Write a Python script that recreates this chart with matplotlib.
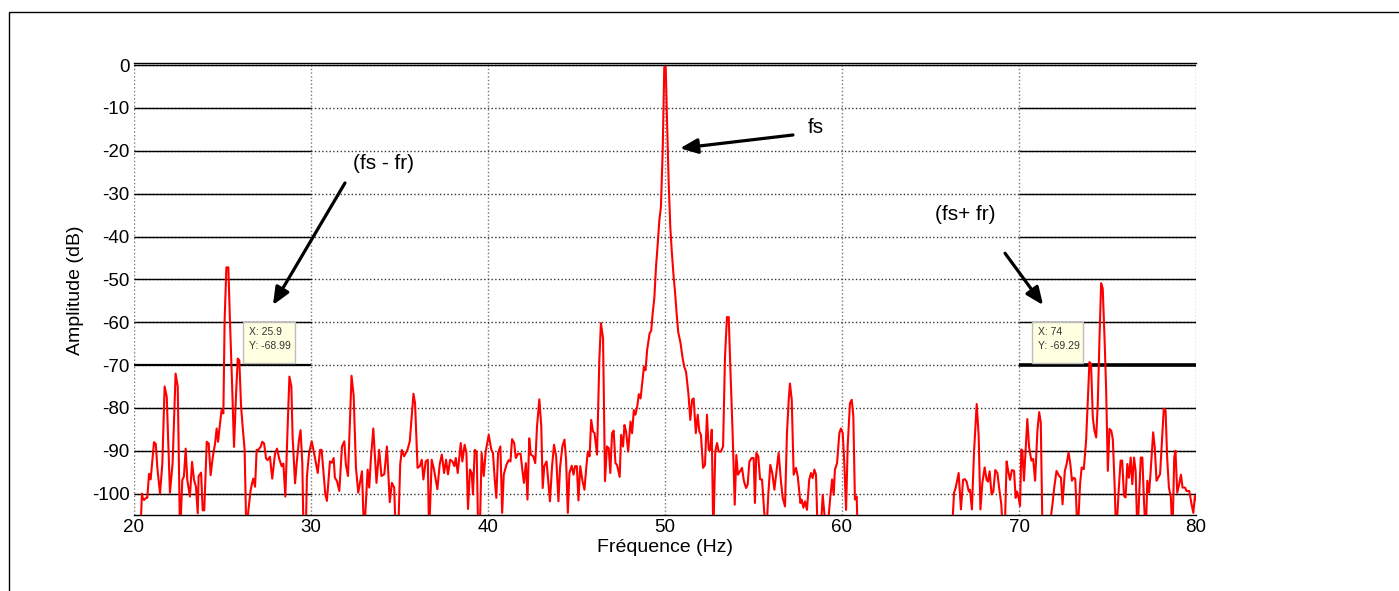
import matplotlib
matplotlib.use("Agg")
import matplotlib.pyplot as plt
from matplotlib.patches import Rectangle

plt.rcParams['font.family'] = ['Liberation Sans', 'DejaVu Sans']
plt.rcParams['axes.unicode_minus'] = False

# spectrum (Hz, dB); values below -105 fall outside the axes
freq = [20.0, 20.35, 20.45, 20.49, 20.57, 20.68, 20.75, 20.85, 20.94, 21.02, 21.13, 21.23, 21.32, 21.47,
        21.60, 21.73, 21.85, 22.03, 22.18, 22.35, 22.47, 22.60, 22.73, 22.82, 22.92, 23.01, 23.16, 23.28,
        23.39, 23.50, 23.60, 23.65, 23.79, 23.88, 23.97, 24.11, 24.22, 24.33, 24.44, 24.58, 24.67, 24.75,
        24.86, 24.95, 25.05, 25.12, 25.22, 25.33, 25.42, 25.54, 25.65, 25.76, 25.86, 25.95, 26.05, 26.14,
        26.25, 26.35, 26.46, 26.59, 26.67, 26.74, 26.84, 26.93, 27.03, 27.16, 27.25, 27.35, 27.46, 27.55,
        27.68, 27.81, 27.97, 28.08, 28.20, 28.34, 28.44, 28.55, 28.68, 28.78, 28.89, 28.96, 29.10, 29.19,
        29.32, 29.41, 29.51, 29.58, 29.70, 29.77, 29.89,
        30.04, 30.19, 30.38, 30.51, 30.60, 30.81, 30.90, 31.07, 31.18, 31.28, 31.35, 31.47, 31.60, 31.75,
        31.88, 31.97, 32.09, 32.29, 32.41, 32.54, 32.67, 32.88, 33.00, 33.20, 33.29, 33.38, 33.52, 33.70,
        33.85, 33.98, 34.14, 34.29, 34.45, 34.57, 34.70, 34.79, 34.92, 35.04, 35.13, 35.26, 35.45, 35.58,
        35.79, 35.88, 36.02, 36.15, 36.26, 36.35, 36.48, 36.60, 36.67, 36.82, 36.95, 37.14, 37.27, 37.39,
        37.52, 37.63, 37.74, 37.86, 37.99, 38.10, 38.18, 38.29, 38.46, 38.55, 38.68, 38.78, 38.87, 38.98,
        39.08, 39.15, 39.25, 39.36, 39.45, 39.53, 39.64, 39.76, 39.87,
        40.04, 40.19, 40.28, 40.38, 40.47, 40.57, 40.70, 40.80, 40.89, 41.04, 41.17, 41.27, 41.36, 41.48,
        41.57, 41.70, 41.84, 41.95, 42.03, 42.14, 42.23, 42.33, 42.42, 42.56, 42.67, 42.77, 42.90, 43.01,
        43.09, 43.18, 43.31, 43.41, 43.50, 43.62, 43.73, 43.85, 43.98, 44.07, 44.20, 44.32, 44.41, 44.51,
        44.60, 44.73, 44.83, 44.92, 45.02, 45.11, 45.21, 45.34, 45.45, 45.55, 45.64, 45.74, 45.83, 45.93,
        46.02, 46.16, 46.29, 46.38, 46.50, 46.61, 46.72, 46.82, 46.91, 47.01, 47.10, 47.20, 47.29, 47.44,
        47.52, 47.63, 47.71, 47.80, 47.92, 48.05, 48.14, 48.24, 48.33, 48.43, 48.52, 48.62, 48.71, 48.81,
        48.90, 48.99, 49.13, 49.22,
        49.30, 49.40, 49.49, 49.59, 49.68, 49.77, 49.87, 49.96, 50.04, 50.11, 50.21, 50.30, 50.38, 50.49,
        50.56, 50.66, 50.75, 50.87,
        51.00, 51.09, 51.19, 51.32, 51.43, 51.53, 51.62, 51.74, 51.85, 51.94, 52.03, 52.15, 52.26, 52.37,
        52.47, 52.56, 52.64, 52.73, 52.84, 52.94, 53.03, 53.16, 53.28, 53.39, 53.50, 53.60, 53.69, 53.82,
        53.94, 54.03, 54.12, 54.24, 54.35, 54.46, 54.58, 54.67, 54.77, 54.90, 55.01, 55.08, 55.16, 55.27,
        55.37, 55.48, 55.61, 55.72, 55.84, 55.95, 56.06, 56.18, 56.29, 56.42, 56.55, 56.65, 56.78, 56.89,
        56.99, 57.06, 57.16, 57.27, 57.40, 57.50, 57.65, 57.72, 57.82, 57.91, 58.02, 58.15, 58.25, 58.34,
        58.44, 58.53, 58.63, 58.78, 58.91, 59.00, 59.15, 59.34, 59.44, 59.53, 59.60, 59.72, 59.85, 59.94,
        60.04, 60.13, 60.23, 60.32, 60.45, 60.55, 60.64, 60.73, 60.83, 60.89,
        61.5, 62.5, 63.5, 64.5, 65.5, 66.2,
        66.33, 66.42, 66.59, 66.72, 66.84, 66.93, 67.04, 67.16, 67.23, 67.34, 67.46, 67.61, 67.72, 67.82,
        67.93, 68.06, 68.17, 68.25, 68.34, 68.45, 68.55, 68.66, 68.78, 68.89, 69.00, 69.10, 69.20, 69.30,
        69.38, 69.49, 69.60, 69.72, 69.81, 69.89, 69.98, 70.06,
        70.13, 70.19, 70.28, 70.38, 70.47, 70.57, 70.70, 70.80, 70.91, 71.04, 71.14, 71.23, 71.33, 71.60,
        71.89, 71.99, 72.12, 72.27, 72.37, 72.46, 72.59, 72.69, 72.80, 72.90, 72.99, 73.09, 73.18, 73.31,
        73.45, 73.54, 73.66, 73.79, 73.88, 73.98, 74.07, 74.17, 74.26, 74.36, 74.45, 74.55, 74.64, 74.73,
        74.83, 74.92, 75.02, 75.11, 75.21, 75.30, 75.40, 75.49, 75.63, 75.74, 75.83, 75.93, 76.02, 76.12,
        76.21, 76.31, 76.40, 76.50, 76.59, 76.69, 76.88, 76.97, 77.06, 77.16, 77.25, 77.35, 77.44, 77.58,
        77.67, 77.77, 77.86, 77.97, 78.09, 78.18, 78.28, 78.37, 78.47, 78.58, 78.67, 78.77, 78.84, 78.94,
        79.05, 79.15, 79.24, 79.38, 79.47, 79.62, 79.75, 79.85, 79.94, 80.04]

amp = [-112, -110, -100, -101, -101.5, -101, -101, -95.4, -96.7, -93, -88, -88.4, -94, -100,
       -93, -75, -77.4, -99.8, -93, -72, -75, -110, -96.8, -96, -89.5, -96.8, -100.7, -92.6,
       -96.8, -98.4, -104.6, -96, -95.1, -103.9, -103.9, -87.9, -88.3, -95.7, -91.8, -88.3, -84.8, -87.9,
       -83.6, -80.5, -81.3, -59.5, -47.2, -47.2, -59.5, -74.3, -89.1, -77.4, -68.5, -68.9, -79.7, -84.4,
       -89.8, -110, -104, -99.2, -97.6, -96.5, -98.4, -89.8, -89.8, -89, -87.9, -88.3, -91.8, -92.2,
       -91.4, -96.5, -90.6, -89.5, -91.8, -93.6, -93, -100.7, -84.4, -72.7, -75, -86.7, -97.6, -93,
       -87.5, -85.2, -93, -110, -110, -96, -90.6,
       -87.8, -90.9, -95.2, -89.8, -89.8, -100.2, -101.7, -92.5, -92.8, -91.7, -96.3, -97.1, -99.4, -89,
       -87.8, -93.2, -95.9, -72.5, -77.1, -94, -99.8, -94.8, -110, -94.4, -98.6, -92.1, -84.8, -97.5,
       -89.8, -95.9, -95.5, -89, -102, -97.5, -98.6, -110, -110, -93.2, -89.8, -91.3, -89.8, -87.8,
       -76.7, -79, -94, -93.6, -92.1, -96.7, -92.5, -92.1, -110, -92.1, -94.4, -99, -93.2, -90.9,
       -95.2, -92.1, -95.5, -92.1, -92.5, -93.6, -91.7, -95.2, -88.2, -92.5, -88.6, -90.5, -103.6, -94.4,
       -95.2, -100.2, -89.8, -90.2, -110, -110, -90.5, -95.9, -90.2,
       -86.3, -89.8, -90.5, -96.7, -101, -90.5, -89, -104.5, -95.6, -93.3, -92.2, -92.5, -87.3, -88.2,
       -91.7, -90.7, -90.7, -94.8, -97.5, -92.9, -101.4, -87.1, -90.9, -91.3, -92.9, -84.3, -78, -84.3,
       -98.7, -93.6, -92.5, -97.5, -101.8, -93.6, -88.6, -91.3, -101.8, -94, -89, -87.4, -92.1, -104.5,
       -95.2, -93.5, -95.6, -93.6, -93.6, -101.6, -93.6, -97.1, -99.1, -94, -90.2, -91.3, -82.8, -85.5,
       -85.9, -90.9, -68.8, -60.2, -63.8, -97.1, -89, -89.4, -95.2, -85.9, -85.3, -92.9, -93.3, -96.1,
       -86.3, -89, -84, -85.5, -90.2, -83.2, -85.9, -80.5, -81.6, -79.7, -76.8, -77.8, -74.3, -70.4,
       -71.2, -66.5, -62.6, -62,
       -58.1, -54.2, -47.2, -41.7, -36.2, -33.1, -19.9, -0.4, -0.4, -12.1, -27.7, -37.8, -43.3, -49.5,
       -52.6, -58.1, -62.4, -64.7,
       -68.5, -70.4, -71.6, -76.6, -82.8, -78.1, -77.8, -85.9, -81.6, -85.5, -86.3, -94, -93.3, -81.6,
       -89.8, -89.8, -85.1, -110, -90.2, -88.2, -90.2, -90.2, -89, -68.1, -58.8, -58.8, -70.4, -85.9,
       -102.6, -91, -95.6, -94.8, -94, -97.1, -98.7, -97.9, -92.5, -91.7, -91.7, -102.2, -90.5, -91.3,
       -96.7, -96.7, -104.5, -110, -99.9, -93.3, -95.2, -99.1, -95.2, -90.5, -97.1, -101, -103, -85.9,
       -78.1, -74.3, -78.1, -95.6, -94, -96, -102.2, -101.4, -103.3, -101.8, -103.8, -96.7, -95.2, -96.4,
       -94.4, -95.6, -110, -110, -100.3, -104.5, -110, -100.7, -96.7, -100.3, -94.4, -92.9, -85.9, -84.8,
       -85.9, -92.9, -103.8, -89, -78.9, -78.1, -81.9, -101.4, -100.7, -110,
       -114, -112, -115, -113, -114, -110,
       -99.8, -98.7, -95.2, -103.7, -96.8, -96.6, -97.2, -99.5, -99.1, -103.7, -90.2, -79.1, -86.4, -103.7,
       -97.5, -93.9, -96.8, -97.2, -94.8, -100.2, -99.5, -94.5, -95.2, -99.1, -102.5, -110, -108, -92.5,
       -94.5, -96.8, -94.5, -94.7, -101, -99.5, -101, -102.9,
       -89.7, -90, -97, -89.2, -82.6, -89.2, -92.3, -91.9, -97, -85.3, -81, -83.4, -110, -112,
       -102.5, -98.6, -94.7, -95.9, -96.3, -102.5, -94.7, -93.1, -90.4, -93.1, -97, -96.3, -96.6, -110,
       -97.8, -93.9, -94.3, -87.7, -79.1, -69.3, -69.7, -82.2, -85.3, -86.9, -79.1, -63.4, -50.9, -52.1,
       -63.4, -75.2, -94.7, -84.9, -85.3, -87.3, -97.8, -110, -99.4, -92.3, -92.3, -100.5, -100.9, -93.1,
       -96.3, -91.6, -97.8, -91.6, -94.7, -110, -91.6, -91.6, -101.7, -110, -97, -99.8, -94.7, -85.7,
       -89.2, -97, -96.3, -95.5, -86.9, -80.2, -80.6, -91.6, -98.6, -100.9, -110, -91.6, -90, -99.8,
       -97.8, -95.6, -98.6, -98.6, -99.4, -99.4, -102.5, -104.5, -100.5, -101.7]

xticks = [20, 30, 40, 50, 60, 70, 80]
yticks = [0, -10, -20, -30, -40, -50, -60, -70, -80, -90, -100]

# data tips shown in the boxes
tip_labels = ['X: 25.9\nY: -68.99', 'X: 74\nY: -69.29']
box_x0 = [26.16, 70.72]
box_x1 = [29.1, 73.59]

W, H = 1399, 591
fig = plt.figure(figsize=(W / 100, H / 100), dpi=100)

# axes box in pixels: x 134..1196, y 63..515
ax = fig.add_axes([134 / W, 1 - 515 / H, (1196 - 134) / W, (515 - 63) / H])
ax.set_xlim(20, 80)
ax.set_ylim(-105, 0.5)

ax.plot(freq, amp, color='red', lw=1.5, zorder=4)

ax.set_xticks(xticks)
ax.set_yticks(yticks)
ax.tick_params(length=0, labelsize=13.5, pad=3)
ax.xaxis.grid(True, linestyle=':', color='#777777', lw=1)
ax.yaxis.grid(True, linestyle=':', color='#333333', lw=1)
ax.set_axisbelow(True)

for s in ['left', 'right']:
    ax.spines[s].set_visible(False)
ax.spines['bottom'].set_linewidth(1)
ax.spines['top'].set_linewidth(1)

# solid horizontal lines drawn over the grid in the 20-30 and 70-80 bands
ax.axhline(0, color='k', lw=1, zorder=2)
for y in yticks[1:]:
    if y == -70:
        ax.hlines(y, 20, 30, color='k', lw=1.6, zorder=2)
        ax.hlines(y, 70, 80, color='k', lw=2.6, zorder=2)
    else:
        ax.hlines(y, 20, 30, color='k', lw=1, zorder=2)
        ax.hlines(y, 70, 80, color='k', lw=1, zorder=2)

# data tip boxes
for i in range(2):
    ax.add_patch(Rectangle((box_x0[i], -69.6), box_x1[i] - box_x0[i], 9.6,
                           facecolor='#ffffe1', edgecolor='#bdbdbd', lw=1, zorder=5))
    ax.text(box_x0[i] + 0.35, -61.2, tip_labels[i], fontsize=7.5, color='#333333',
            va='top', ha='left', linespacing=1.5, zorder=6)

# arrows and their labels
arrow = dict(arrowstyle='-|>,head_length=0.7,head_width=0.3', lw=2.3, color='k',
             shrinkA=0, shrinkB=0, mutation_scale=15)
ax.annotate('', xy=(50.85, -19.4), xytext=(57.23, -16.3), arrowprops=arrow, zorder=7)
ax.annotate('', xy=(27.85, -56), xytext=(31.92, -27.5), arrowprops=arrow, zorder=7)
ax.annotate('', xy=(71.36, -56), xytext=(69.21, -43.9), arrowprops=arrow, zorder=7)
ax.text(58.53, -14.6, 'fs', fontsize=15, ha='center', va='center')
ax.text(34.07, -23.0, '(fs - fr)', fontsize=15, ha='center', va='center')
ax.text(66.95, -34.9, '(fs+ fr)', fontsize=15, ha='center', va='center')

fig.text(665 / W, 1 - 548 / H, 'Fréquence (Hz)', fontsize=14, ha='center', va='center')
fig.text(75 / W, 1 - 290 / H, 'Amplitude (dB)', fontsize=14, rotation=90, ha='center', va='center')

# outer frame around the figure
fig.add_artist(Rectangle((9 / W, -0.1), 1.2, 1.1 - 12 / H, transform=fig.transFigure,
                         fill=False, edgecolor='k', lw=1))

fig.savefig('out.png', dpi=100)
